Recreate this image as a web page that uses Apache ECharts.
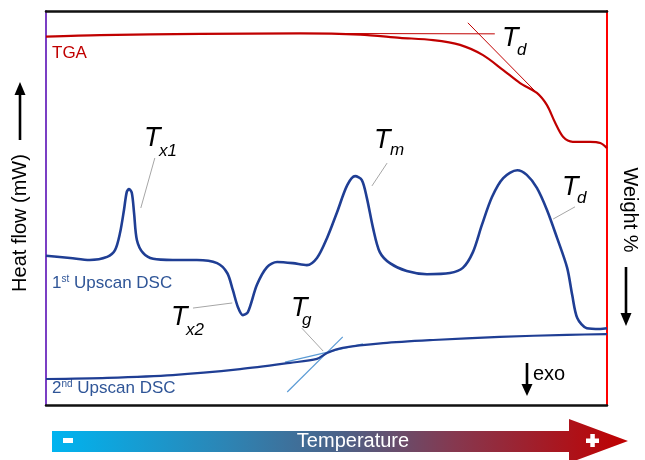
<!DOCTYPE html>
<html>
<head>
<meta charset="utf-8">
<script src="https://cdn.jsdelivr.net/npm/echarts@6/dist/echarts.min.js"></script>
<style>
html,body{margin:0;padding:0;background:#fff;}
#c{width:645px;height:460px;}
</style>
</head>
<body>
<div id="c"></div>
<script>
// Schematic data, in relative units (x: temperature 0-100, y: signal 0-100)
const tga = [[0,93.5],[9.6,93.9],[27.5,94.2],[45.3,94.3],[56.0,94.0],[63.1,93.2],[69.0,92.6],[73.8,91.4],[77.9,88.8],[81.5,85.0],[84.5,81.7],[87.5,79.2],[89.3,76.1],[90.7,71.8],[92.2,68.0],[93.9,66.8],[97.0,66.8],[98.8,66.5],[100,65.2]];
const dsc1 = [[0,37.9],[4.3,37.3],[7.8,36.8],[10.9,37.6],[12.3,39.3],[13.2,43.7],[13.9,49.5],[14.4,54.1],[14.8,54.8],[15.3,53.8],[15.7,48.7],[16.2,41.9],[17.3,38.6],[19.1,37.1],[22.6,36.8],[26.9,36.8],[30.5,36.0],[32.3,33.5],[33.3,29.2],[34.2,24.9],[35.1,22.8],[36.0,23.6],[37.6,30.5],[39.4,35.0],[41.2,36.3],[44.0,36.0],[46.5,35.5],[48.3,37.3],[50.1,42.4],[51.9,49.0],[53.7,55.8],[55.1,58.1],[56.3,57.1],[57.2,52.5],[58.3,44.9],[59.5,38.8],[61.3,36.0],[64.3,34.0],[67.9,33.2],[72.0,33.5],[74.3,34.8],[76.1,38.8],[77.7,45.7],[79.5,52.8],[81.5,57.6],[84.0,59.6],[85.7,58.4],[87.5,55.1],[89.3,49.5],[91.1,42.4],[92.9,34.8],[93.8,27.9],[94.7,22.1],[96.4,19.5],[98.8,19.3],[100,19.5]];
const dsc2 = [[0,6.6],[10.9,6.9],[22.6,7.6],[34.6,9.1],[43.5,10.7],[48.3,11.7],[50.1,13.2],[52.9,14.5],[60.1,15.7],[69.0,16.5],[80.9,17.3],[92.9,17.8],[100,18.0]];
const tgaTangents = [
  [[47.0,94.3],[80.0,94.2]],
  [[75.2,97.0],[87.5,79.2]]
];
const tgTangents = [
  [[42.6,10.9],[56.5,15.5]],
  [[43.0,3.3],[52.9,17.3]]
];
const leaders = [
  [[19.4,62.7],[16.9,50.0]],
  [[60.8,61.4],[58.1,55.6]],
  [[94.3,50.3],[90.4,47.2]],
  [[26.2,24.6],[33.2,25.9]],
  [[45.6,19.5],[49.4,13.7]]
];
const seriesNames = ['TGA','1st Upscan DSC','2nd Upscan DSC'];
const tLabels = [
  {sub:'x1', x:144, y:138, sx:159, sy:151},
  {sub:'m',  x:374, y:140, sx:390, sy:150},
  {sub:'d',  x:502, y:38,  sx:517, sy:50},
  {sub:'d',  x:562, y:187, sx:577, sy:198},
  {sub:'x2', x:171, y:317, sx:186, sy:330},
  {sub:'g',  x:291, y:308, sx:302, sy:320}
];

const FONT = '"Liberation Sans", Arial, sans-serif';
const chart = echarts.init(document.getElementById('c'), null, {renderer:'canvas'});

function seg(data, color, width, z){
  return {type:'line', data:data, showSymbol:false, symbol:'none', silent:true, z:z||2,
    lineStyle:{color:color, width:width}, animation:false};
}

const series = [];
series.push(Object.assign(seg(tga,'#C00000',2.2,3),{name:seriesNames[0], smooth:0.3}));
tgaTangents.forEach(s=>series.push(seg(s,'#C00000',1,2)));
series.push(Object.assign(seg(dsc1,'#1F3E94',2.6,3),{name:seriesNames[1], smooth:0.3}));
series.push(Object.assign(seg(dsc2,'#1F3E94',2.2,3),{name:seriesNames[2], smooth:0.3}));
tgTangents.forEach(s=>series.push(seg(s,'#5B9BD5',1.2,2)));
leaders.forEach(s=>series.push(seg(s,'#A6A6A6',1,2)));

const graphic = [];
tLabels.forEach(t=>{
  graphic.push({type:'text', x:t.x, y:t.y, style:{text:'T', fill:'#000', font:'italic 27px '+FONT, align:'left', verticalAlign:'middle'}});
  graphic.push({type:'text', x:t.sx, y:t.sy, style:{text:t.sub, fill:'#000', font:'italic 17px '+FONT, align:'left', verticalAlign:'middle'}});
});
const blue = '#2F5597';
graphic.push({type:'text', x:52, y:53, style:{text:seriesNames[0], fill:'#C00000', font:'17px '+FONT, verticalAlign:'middle'}});
function dscLabel(y, num, sup, rest){
  graphic.push({type:'text', x:52, y:y, style:{
    text:'{a|'+num+'}{s|'+sup+'}{a| '+rest+'}',
    rich:{a:{fontSize:17, fontFamily:FONT, fill:blue, verticalAlign:'bottom'}, s:{fontSize:10, fontFamily:FONT, fill:blue, verticalAlign:'top'}},
    verticalAlign:'middle'}});
}
dscLabel(283, '1', 'st', 'Upscan DSC');
dscLabel(388, '2', 'nd', 'Upscan DSC');
graphic.push({type:'text', x:533, y:374, style:{text:'exo', fill:'#000', font:'20px '+FONT, verticalAlign:'middle'}});
// axis titles
graphic.push({type:'text', x:20, y:223, rotation:Math.PI/2, style:{text:'Heat flow (mW)', fill:'#000', font:'20px '+FONT, align:'center', verticalAlign:'middle'}});
graphic.push({type:'text', x:630, y:210, rotation:-Math.PI/2, style:{text:'Weight %', fill:'#000', font:'20px '+FONT, align:'center', verticalAlign:'middle'}});
// arrows
function arrow(x, y1, y2, head){
  const dir = y2 > y1 ? 1 : -1;
  graphic.push({type:'line', shape:{x1:x, y1:y1, x2:x, y2:y2 - dir*head*0.8}, style:{stroke:'#000', lineWidth:2.6}});
  graphic.push({type:'polygon', shape:{points:[[x-5.5, y2 - dir*head],[x+5.5, y2 - dir*head],[x, y2]]}, style:{fill:'#000'}});
}
arrow(20, 140, 82, 13);
arrow(626, 267, 326, 13);
arrow(527, 363, 396, 12);
// temperature arrow
graphic.push({type:'polygon', shape:{points:[[52,431],[569,431],[569,419],[628,441],[569,463],[569,452],[52,452]]},
  style:{fill:new echarts.graphic.LinearGradient(0,0,1,0,[
    {offset:0,color:'#00B4F0'},{offset:0.3,color:'#2C85B5'},{offset:0.5,color:'#4B6288'},{offset:0.7,color:'#86384F'},{offset:1,color:'#C00000'}])}});
graphic.push({type:'text', x:353, y:441, style:{text:'Temperature', fill:'#fff', font:'20px '+FONT, align:'center', verticalAlign:'middle'}});
graphic.push({type:'rect', shape:{x:63, y:438, width:10, height:5}, style:{fill:'#fff'}});
graphic.push({type:'rect', shape:{x:586, y:438.5, width:13, height:4.5}, style:{fill:'#fff'}});
graphic.push({type:'rect', shape:{x:590.3, y:434, width:4.5, height:13}, style:{fill:'#fff'}});

const axisBase = {type:'value', min:0, max:100, axisTick:{show:false}, axisLabel:{show:false}, splitLine:{show:false}};
chart.setOption({
  animation:false,
  grid:{left:46, right:38, top:11, bottom:55, containLabel:false},
  xAxis:[
    Object.assign({}, axisBase, {position:'bottom', axisLine:{show:true, onZero:false, lineStyle:{color:'#111', width:2.5}}}),
    Object.assign({}, axisBase, {position:'top', axisLine:{show:true, onZero:false, lineStyle:{color:'#111', width:2.5}}})
  ],
  yAxis:[
    Object.assign({}, axisBase, {position:'left', axisLine:{show:true, onZero:false, lineStyle:{color:'#7B3FC4', width:2}}}),
    Object.assign({}, axisBase, {position:'right', axisLine:{show:true, onZero:false, lineStyle:{color:'#FF0000', width:2}}})
  ],
  series:series,
  graphic:graphic
});
</script>
</body>
</html>
